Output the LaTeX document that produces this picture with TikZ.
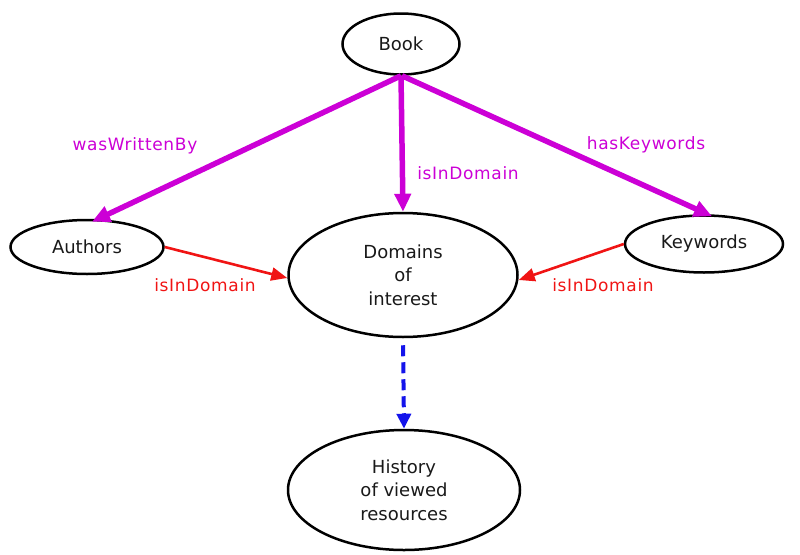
\documentclass[tikz,border=0pt]{standalone}
\usepackage{fontspec}
\setmainfont{DejaVu Sans}
\newfontfamily\edgefont[LetterSpace=4]{DejaVu Sans}
\usetikzlibrary{shapes.geometric,arrows.meta}
\definecolor{propmag}{RGB}{204,0,214}
\definecolor{linkred}{RGB}{240,20,20}
\definecolor{flowblue}{RGB}{20,20,235}
\tikzset{
  concept/.style={ellipse, draw=black, line width=2.5pt, inner sep=0pt,
    align=center, font=\fontsize{18}{23.5}\selectfont, text=black!90},
  propedge/.style={draw=propmag, line width=5.5pt,
    -{Triangle[length=18pt,width=16pt]}},
  linkedge/.style={draw=linkred, line width=2.6pt,
    -{Triangle[length=16pt,width=13pt]}},
  flowedge/.style={draw=flowblue, line width=4pt, dash pattern=on 11pt off 6pt,
    -{Triangle[length=15pt,width=14pt]}},
  proplabel/.style={text=propmag, font=\edgefont\fontsize{17}{20}\selectfont},
  linklabel/.style={text=linkred, font=\edgefont\fontsize{17}{20}\selectfont}
}
\begin{document}
\begin{tikzpicture}[x=1pt,y=-1pt]
  \useasboundingbox (0,0) rectangle (800,554);

  % concepts
  \node[concept, minimum width=117pt, minimum height=61pt] (book) at (401,44) {Book};
  \node[concept, minimum width=153pt, minimum height=54pt] (authors) at (87,247) {Authors};
  \node[concept, minimum width=158pt, minimum height=57pt] (keywords) at (704,244) {Keywords};
  \node[concept, minimum width=229pt, minimum height=124pt] (domains) at (403,275) {Domains\\of\\interest};
  \node[concept, minimum width=232pt, minimum height=120pt] (history) at (404,490) {History\\of viewed\\resources};

  % properties of a book
  \draw[propedge] (book.south) -- ([xshift=5pt,yshift=-3pt]authors.north);
  \draw[propedge] (book.south) -- (domains.north);
  \draw[propedge] ([xshift=1pt]book.south) -- ([xshift=8pt,yshift=-2pt]keywords.north);

  % links into the domains of interest
  \draw[linkedge] (authors.east) -- ([yshift=-3pt]domains.west);
  \draw[linkedge] (keywords.west) -- ([yshift=-5pt]domains.east);

  % derived history
  \draw[flowedge, shorten <=7pt] (domains.south) -- (history.north);

  % edge labels
  \node[proplabel] (lwritten) at (135,146) {wasWrittenBy};
  \node[proplabel] (ldomain) at (468,173) {isInDomain};
  \node[proplabel] (lkeywords) at (646,145) {hasKeywords};
  \node[linklabel] (lauthdom) at (205,285) {isInDomain};
  \node[linklabel] (lkeydom) at (603,285) {isInDomain};
\end{tikzpicture}
\end{document}
